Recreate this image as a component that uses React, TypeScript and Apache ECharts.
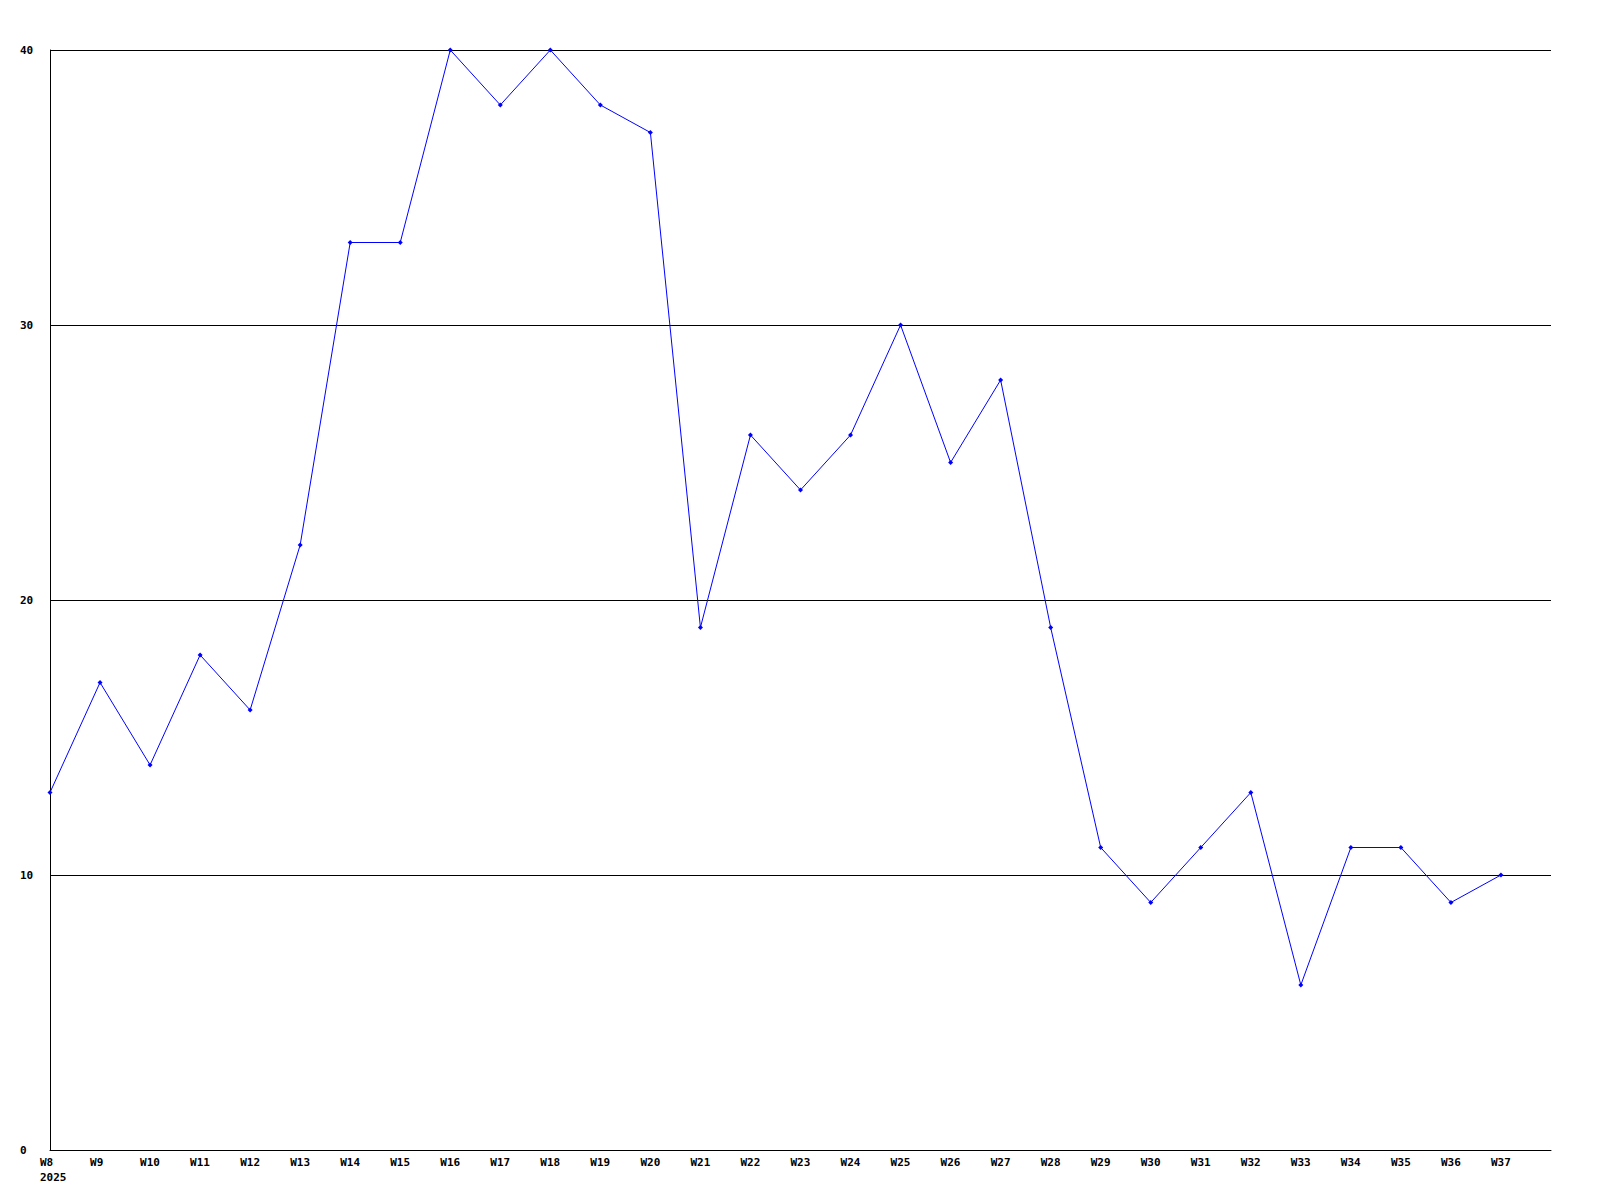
import React, { useEffect, useRef } from "react";
import * as echarts from "echarts";

const weeks = [
  "W8", "W9", "W10", "W11", "W12", "W13", "W14", "W15", "W16", "W17",
  "W18", "W19", "W20", "W21", "W22", "W23", "W24", "W25", "W26", "W27",
  "W28", "W29", "W30", "W31", "W32", "W33", "W34", "W35", "W36", "W37",
];
const values = [
  13, 17, 14, 18, 16, 22, 33, 33, 40, 38,
  40, 38, 37, 19, 26, 24, 26, 30, 25, 28,
  19, 11, 9, 11, 13, 6, 11, 11, 9, 10,
];
const yearLabel = "2025";
const yTicks = [0, 10, 20, 30, 40];

export default function App() {
  const ref = useRef<HTMLDivElement>(null);
  useEffect(() => {
    document.body.style.margin = "0";
    const chart = echarts.init(ref.current!, null, { renderer: "svg" });
    const font = "'DejaVu Sans Mono', 'Liberation Mono', monospace";
    chart.setOption({
      animation: false,
      backgroundColor: "#ffffff",
      grid: { left: 50, right: 49, top: 50, bottom: 50, containLabel: false },
      xAxis: {
        type: "value",
        min: 0,
        max: 30,
        interval: 1,
        axisLine: { show: true, lineStyle: { color: "#000", width: 1 } },
        axisTick: { show: false },
        splitLine: { show: false },
        axisLabel: {
          show: true,
          align: "left",
          margin: 5,
          padding: [0, 0, 0, -10],
          fontFamily: font,
          fontWeight: "bold",
          fontSize: 11,
          lineHeight: 15,
          color: "#000",
          formatter: (v: number) => {
            const i = Math.round(v);
            if (i < 0 || i >= weeks.length) return "";
            return i === 0 ? weeks[i] + "\n" + yearLabel : weeks[i];
          },
        },
      },
      yAxis: {
        type: "value",
        min: yTicks[0],
        max: yTicks[yTicks.length - 1],
        interval: 10,
        axisLine: { show: true, lineStyle: { color: "#000", width: 1 } },
        axisTick: { show: false },
        splitLine: { show: true, lineStyle: { color: "#000", width: 1 } },
        axisLabel: {
          align: "left",
          margin: 30,
          fontFamily: font,
          fontWeight: "bold",
          fontSize: 11,
          color: "#000",
        },
      },
      series: [
        {
          type: "line",
          data: values.map((v, i) => [i, v]),
          lineStyle: { color: "#0000ff", width: 1 },
          itemStyle: { color: "#0000ff" },
          symbol: "diamond",
          symbolSize: 5,
          showSymbol: true,
        },
      ],
    });
    return () => chart.dispose();
  }, []);
  return <div ref={ref} style={{ width: 1600, height: 1200 }} />;
}
